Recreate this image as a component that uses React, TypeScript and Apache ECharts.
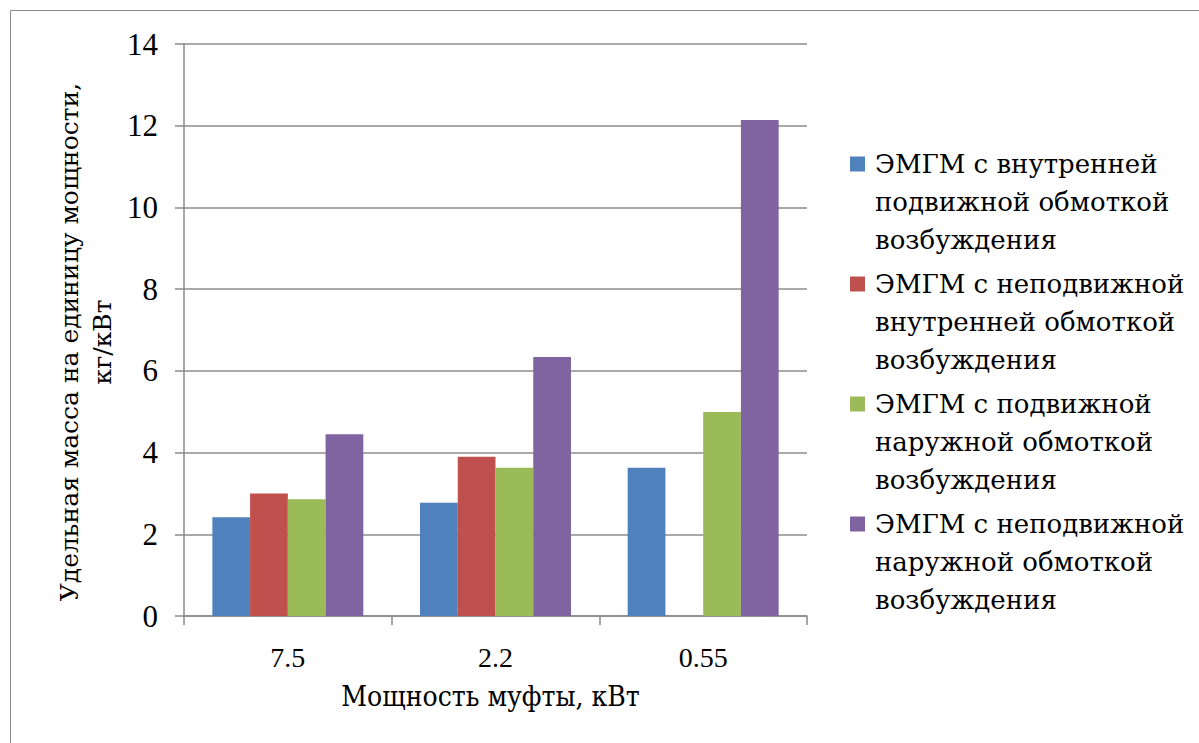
import React, { useEffect, useRef } from "react";
import * as echarts from "echarts";

const categories = ["7.5", "2.2", "0.55"];
const seriesNames = [
  "ЭМГМ с внутренней\nподвижной обмоткой\nвозбуждения",
  "ЭМГМ с неподвижной\nвнутренней обмоткой\nвозбуждения",
  "ЭМГМ с подвижной\nнаружной обмоткой\nвозбуждения",
  "ЭМГМ с неподвижной\nнаружной обмоткой\nвозбуждения",
];
const innerMovable = [2.42, 2.77, 3.63];
const innerFixed: (number | null)[] = [3.0, 3.9, null];
const outerMovable = [2.86, 3.63, 4.99];
const outerFixed = [4.45, 6.34, 12.14];
const colors = ["#4F81BD", "#C0504D", "#9BBB59", "#8064A2"];
const yTitleLines = ["Удельная масса на единицу мощности,", "кг/кВт"];
const xTitle = "Мощность муфты, кВт";

const NUM_FONT = "Liberation Serif";
const CYR_FONT = "DejaVu Serif";
const CYR_COND_FONT = "DejaVu Serif Condensed, DejaVu Serif";

export default function App() {
  const ref = useRef<HTMLDivElement>(null);
  useEffect(() => {
    if (!ref.current) return;
    const chart = echarts.init(ref.current, undefined, { renderer: "svg" });
    const values = [innerMovable, innerFixed, outerMovable, outerFixed];

    const legendEls: any[] = [];
    seriesNames.forEach((name, i) => {
      const baseY = 164 + i * 120;
      legendEls.push({
        type: "rect",
        shape: { x: 850, y: baseY - 7.5, width: 15, height: 15 },
        style: { fill: colors[i] },
        silent: true,
      });
      name.split("\n").forEach((line, j) => {
        legendEls.push({
          type: "text",
          x: 875,
          y: baseY + j * 38,
          style: {
            text: line,
            fontFamily: CYR_FONT,
            fontSize: 26,
            fill: "#000",
            align: "left",
            verticalAlign: "middle",
          },
          silent: true,
        });
      });
    });

    const yTitleEls = yTitleLines.map((line, j) => ({
      type: "text",
      x: 69 + j * 33,
      y: 342,
      rotation: Math.PI / 2,
      style: {
        text: line,
        fontFamily: CYR_FONT,
        fontSize: 25,
        fill: "#000",
        align: "center",
        verticalAlign: "middle",
      },
      silent: true,
    }));

    chart.setOption({
      animation: false,
      backgroundColor: "#ffffff",
      textStyle: { fontFamily: NUM_FONT, color: "#000" },
      graphic: [
        {
          type: "rect",
          shape: { x: 10.5, y: 10.5, width: 1300, height: 800 },
          style: { fill: "none", stroke: "#8a8a8a", lineWidth: 1 },
          silent: true,
        },
        ...legendEls,
        ...yTitleEls,
      ],
      grid: { left: 184, right: 392, top: 44, bottom: 127 },
      xAxis: {
        type: "category",
        data: categories,
        name: xTitle,
        nameLocation: "middle",
        nameGap: 66,
        nameTextStyle: {
          fontFamily: CYR_COND_FONT,
          fontSize: 28,
          color: "#000",
          padding: [0, 10, 0, 0],
        },
        axisLine: { show: true, lineStyle: { color: "#8a8a8a", width: 1.5 } },
        axisTick: { show: true, length: 9, lineStyle: { color: "#8a8a8a", width: 1.5 } },
        axisLabel: { fontFamily: NUM_FONT, fontSize: 28, color: "#000", margin: 27 },
      },
      yAxis: {
        type: "value",
        min: 0,
        max: 14,
        interval: 2,
        axisLine: { show: true, lineStyle: { color: "#8a8a8a", width: 1.5 } },
        axisTick: { show: true, length: 9, lineStyle: { color: "#8a8a8a", width: 1.5 } },
        axisLabel: { fontFamily: NUM_FONT, fontSize: 31, color: "#000", margin: 26 },
        splitLine: { show: true, lineStyle: { color: "#8c8c8c", width: 1.5 } },
      },
      series: seriesNames.map((name, i) => ({
        name,
        type: "bar",
        data: values[i],
        barGap: "0%",
        barCategoryGap: "27.3%",
        itemStyle: { color: colors[i] },
      })),
    });
    return () => chart.dispose();
  }, []);
  return (
    <div
      ref={ref}
      style={{ position: "fixed", left: 0, top: 0, width: 1199, height: 743 }}
    />
  );
}
